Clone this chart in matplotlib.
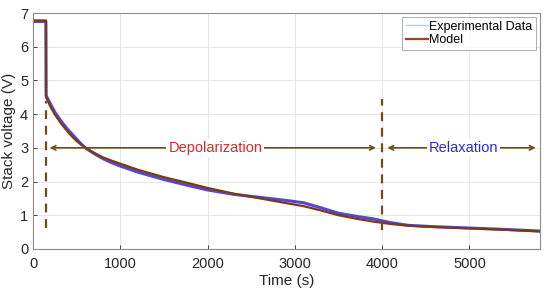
import matplotlib
matplotlib.use("Agg")
import matplotlib.pyplot as plt

plt.rcParams["font.family"] = ["Liberation Sans", "DejaVu Sans"]

# Model and experimental stack voltage
t_model = [0, 148, 150, 200, 250, 300, 350, 400, 450, 500, 550, 600, 700, 800, 900, 1000,
           1200, 1500, 1800, 2000, 2300, 2600, 2900, 3100, 3300, 3500, 3700, 3900, 4100,
           4300, 4600, 5000, 5400, 5810]
v_model = [6.78, 6.78, 4.5, 4.22, 3.99, 3.8, 3.63, 3.47, 3.33, 3.2, 3.1, 3.0, 2.85, 2.72,
           2.62, 2.53, 2.35, 2.13, 1.94, 1.81, 1.64, 1.5, 1.36, 1.27, 1.14, 1.0, 0.9, 0.81,
           0.74, 0.69, 0.65, 0.61, 0.57, 0.52]
t_exp = t_model
v_exp = [6.75, 6.75, 4.55, 4.3, 4.06, 3.87, 3.7, 3.54, 3.4, 3.26, 3.12, 3.0, 2.83, 2.68,
         2.56, 2.46, 2.28, 2.06, 1.87, 1.75, 1.62, 1.53, 1.44, 1.37, 1.22, 1.06, 0.97, 0.89,
         0.78, 0.7, 0.66, 0.62, 0.58, 0.53]

# phase markers
t_start, t_switch, t_end = 150, 4000, 5810
arrow_y = 3.0
phases = ["Depolarization", "Relaxation"]
phase_colors = ["#d62a2a", "#2a2ad6"]

ARROW_COL = "#6b4f1a"

fig = plt.figure(figsize=(5.5, 2.96), dpi=100)
ax = fig.add_axes([0.06, 0.159, 0.922, 0.797])

ax.plot(t_exp, v_exp, color="#5548cc", lw=2.2, label="_nolegend_")
ax.plot(t_model, v_model, color="#7a3a12", lw=1.6, label="_nolegend_")
# legend proxies (legend colours differ from plotted lines)
ax.plot([], [], color="#b8cbe8", lw=1.0, label="Experimental Data")
ax.plot([], [], color="#a8401a", lw=1.6, label="Model")

ax.plot([t_start, t_start], [0.62, 4.4], ls=(0, (4, 3)), color=ARROW_COL, lw=1.6)
ax.plot([t_switch, t_switch], [0.56, 4.45], ls=(0, (4, 3)), color=ARROW_COL, lw=1.6)

arrow_kw = dict(arrowstyle="<->", color=ARROW_COL, lw=1.2, shrinkA=0, shrinkB=0,
                mutation_scale=8)
ax.annotate("", xy=(t_start + 40, arrow_y), xytext=(t_switch - 70, arrow_y), arrowprops=arrow_kw)
ax.annotate("", xy=(t_switch + 60, arrow_y), xytext=(t_end - 50, arrow_y), arrowprops=arrow_kw)
ax.text(2090, arrow_y, phases[0], color=phase_colors[0], fontsize=10.5, ha="center", va="center",
        bbox=dict(facecolor="white", edgecolor="none", pad=1.5))
ax.text(4930, arrow_y, phases[1], color=phase_colors[1], fontsize=10.5, ha="center", va="center",
        bbox=dict(facecolor="white", edgecolor="none", pad=1.5))

ax.set_xlim(0, 5810)
ax.set_ylim(0, 7)
ax.set_xticks([0, 1000, 2000, 3000, 4000, 5000])
ax.set_yticks(range(0, 8))
ax.grid(True, color="#e6e6e6", lw=0.7)
ax.set_axisbelow(True)
ax.tick_params(direction="in", length=3, labelsize=10.5, colors="#262626", width=0.6)
ax.tick_params(axis="x", pad=6)
for s in ax.spines.values():
    s.set_color("#8c8c8c")
    s.set_linewidth(0.8)
ax.set_xlabel("Time (s)", fontsize=11, color="#262626", labelpad=2)
ax.set_ylabel("Stack voltage (V)", fontsize=11, color="#262626", labelpad=3)

leg = ax.legend(loc="upper right", fontsize=9, frameon=True, fancybox=False,
                handlelength=1.8, handletextpad=0.1, borderpad=0.25, labelspacing=0.15,
                borderaxespad=0.35)
leg.get_frame().set_edgecolor("#9a9a9a")
leg.get_frame().set_linewidth(0.7)

fig.savefig("out.png", dpi=100)
